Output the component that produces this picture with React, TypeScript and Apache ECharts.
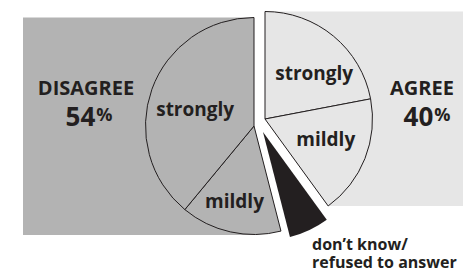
import React, { useEffect, useRef } from 'react';
import * as echarts from 'echarts';

// ---- data ----
const categories = ['agree strongly', 'agree mildly', 'don’t know / refused', 'disagree mildly', 'disagree strongly'];
const sliceLabels = ['strongly', 'mildly', '', 'mildly', 'strongly'];
const sliceGroups = ['agree', 'agree', 'dk', 'disagree', 'disagree'];
const values = [22, 18, 6, 15, 39];
const groupTitles: Record<string, string> = { agree: 'AGREE', disagree: 'DISAGREE' };
const dkLabelLines = ['don’t know/', 'refused to answer'];

// ---- styling / layout ----
const FONT = '"Open Sans", "Noto Sans", sans-serif';
const INK = '#231f20';
const DARK = '#b3b3b3';
const LIGHT = '#e6e6e6';
const sliceColors = [LIGHT, LIGHT, INK, DARK, DARK];
const labelNudges = [[13, -2], [8, -1], [0, 0], [-7, 19], [-5, 2]];
const groupLayout: Record<string, { cx: number; cy: number; r: number }> = {
  agree: { cx: 265, cy: 119, r: 107.5 },
  disagree: { cx: 254, cy: 126, r: 108.5 },
  dk: { cx: 263, cy: 132, r: 108.5 },
};

const total = values.reduce((a, b) => a + b, 0);
const groupSum = (g: string) => values.reduce((s, v, i) => (sliceGroups[i] === g ? s + v : s), 0);

function makeSeries(g: string) {
  const L = groupLayout[g];
  return {
    type: 'pie',
    name: g,
    center: [L.cx, L.cy],
    radius: [0, L.r],
    startAngle: 90,
    clockwise: true,
    silent: true,
    avoidLabelOverlap: false,
    emphasis: { disabled: true },
    labelLine: { show: false },
    label: {
      show: true,
      position: 'inner',
      color: INK,
      fontFamily: FONT,
      fontWeight: 'bold',
      fontSize: 19,
      formatter: (p: any) => sliceLabels[p.dataIndex],
    },
    labelLayout: (p: any) => ({ dx: labelNudges[p.dataIndex][0], dy: labelNudges[p.dataIndex][1] }),
    data: values.map((v, i) => {
      const mine = sliceGroups[i] === g;
      return {
        value: v,
        name: categories[i],
        itemStyle: mine
          ? { color: sliceColors[i], borderColor: INK, borderWidth: g === 'dk' ? 0 : 1 }
          : { color: 'rgba(0,0,0,0)', borderWidth: 0 },
        label: { show: mine && sliceLabels[i] !== '' },
      };
    }),
  };
}

export default function App() {
  const ref = useRef<HTMLDivElement>(null);
  useEffect(() => {
    document.body.style.margin = '0';
    const chart = echarts.init(ref.current!, undefined, { renderer: 'svg' });

    const A = groupLayout.agree;
    const D = groupLayout.disagree;
    const agreeEnd = (2 * Math.PI * groupSum('agree')) / total;
    const endX = A.cx + A.r * Math.sin(agreeEnd);
    const endY = A.cy - A.r * Math.cos(agreeEnd);

    const pctText = (g: string) => `{n|${groupSum(g)}}{p|%}`;
    const pctRich = {
      n: { fontSize: 26, fontWeight: 'bold', fontFamily: FONT, fill: INK },
      p: { fontSize: 18, fontWeight: 'bold', fontFamily: FONT, fill: INK, padding: [0, 0, 4, 1] },
    };
    const dkStyle = {
      fontSize: 16,
      lineHeight: 17,
      fontWeight: 'bold',
      fontFamily: FONT,
      fill: INK,
      align: 'left',
      verticalAlign: 'middle',
    };

    chart.setOption({
      animation: false,
      graphic: [
        {
          type: 'rect',
          z: 0,
          shape: { x: 23, y: D.cy - D.r, width: D.cx - 23, height: 235 - (D.cy - D.r) },
          style: { fill: DARK },
        },
        {
          type: 'polygon',
          z: 0,
          shape: {
            points: [
              [A.cx, A.cy - A.r],
              [463, A.cy - A.r],
              [463, endY],
              [endX, endY],
              [A.cx, A.cy],
            ],
          },
          style: { fill: LIGHT },
        },
        {
          type: 'text',
          x: 86,
          y: 87,
          style: { text: groupTitles.disagree, fontSize: 20, fontWeight: 'bold', fontFamily: FONT, fill: INK, align: 'center', verticalAlign: 'middle' },
        },
        {
          type: 'text',
          x: 89,
          y: 116,
          style: { text: pctText('disagree'), rich: pctRich, align: 'center', verticalAlign: 'middle' },
        },
        {
          type: 'text',
          x: 422,
          y: 87,
          style: { text: groupTitles.agree, fontSize: 20, fontWeight: 'bold', fontFamily: FONT, fill: INK, align: 'center', verticalAlign: 'middle' },
        },
        {
          type: 'text',
          x: 427,
          y: 116,
          style: { text: pctText('agree'), rich: pctRich, align: 'center', verticalAlign: 'middle' },
        },
        { type: 'text', x: 312, y: 244, style: { ...dkStyle, text: dkLabelLines[0] } },
        { type: 'text', x: 312, y: 262, style: { ...dkStyle, text: dkLabelLines[1] } },
      ],
      series: [makeSeries('disagree'), makeSeries('agree'), makeSeries('dk')],
    });
    return () => chart.dispose();
  }, []);
  return <div ref={ref} style={{ width: 463, height: 272 }} />;
}
